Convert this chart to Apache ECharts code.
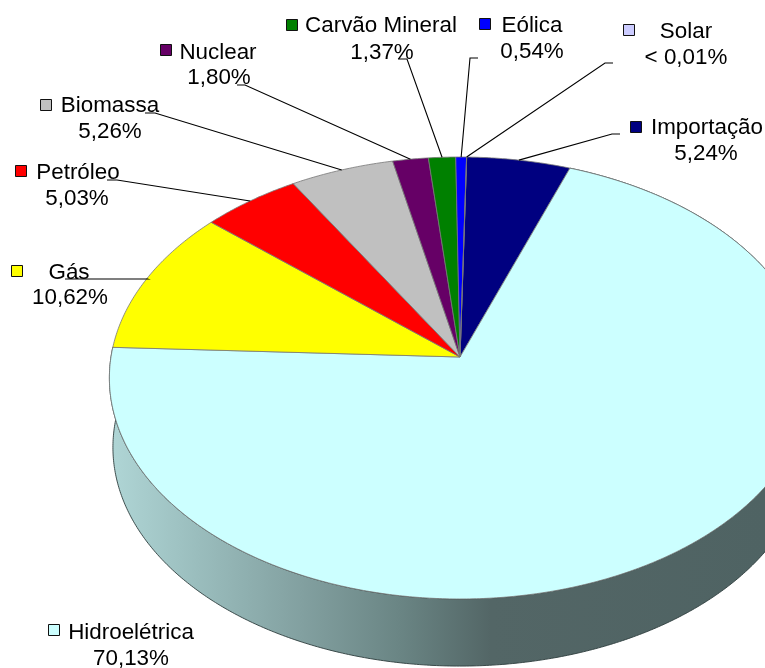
<!DOCTYPE html>
<html>
<head>
<meta charset="utf-8">
<style>html,body{margin:0;padding:0;background:#fff;overflow:hidden}#c{width:765px;height:668px}</style>
<script src="https://cdn.jsdelivr.net/npm/echarts@6/dist/echarts.min.js"></script>
</head>
<body>
<div id="c"></div>
<script>
// Data, clockwise from the top
const categories = ['Importação','Hidroelétrica','Gás','Petróleo','Biomassa','Nuclear','Carvão Mineral','Eólica','Solar'];
const shares     = [5.24, 70.13, 10.62, 5.03, 5.26, 1.80, 1.37, 0.54, 0.005];
const shareLabels = ['5,24%','70,13%','10,62%','5,03%','5,26%','1,80%','1,37%','0,54%','< 0,01%'];
const colors = ['#000080','#CCFFFF','#FFFF00','#FF0000','#C0C0C0','#660066','#008000','#0000FF','#CCCCFF'];

// Label layout: [marker left, marker centre y, name centre x, name centre y, value centre x, value centre y]
const labelLayout = [
  [630,127,707,128,706,154],
  [48,630,131,633,131,659],
  [11,271,69,273,70,298],
  [15,171,78,173,77,199],
  [40,105,110,106,110,132],
  [160,50,218,53,219,78],
  [286,25,381,26,382,53],
  [479,24,532,26,532,52],
  [623,30,686,32,686,58]
];
// Leader elbows: [label end x, label end y, elbow x, elbow y]
const leaderLayout = [
  [620,134,612,134],
  null,
  [65,279,147,279],
  [107,180,117,180],
  [145,113,155,113],
  [237,85,245,85],
  [398,59,407,59],
  [478,58,470,58],
  [613,63,605,63]
];

// Tilted-disc projection (the centre of the pie is not the centre of the ellipse)
const CX = 460, CY = 357, A = 349, B = 219, P = 0.095;
const START = 1.2, DEPTH = 69.5, BASE_SCALE = 0.99;
const FONT = '22.4px "Liberation Sans", Arial, sans-serif';

function project(deg, scale, dy) {
  const t = deg * Math.PI / 180, u = Math.sin(t), v = Math.cos(t), w = 1 + P * v;
  return [CX + scale * A * u / w, CY + (dy || 0) - scale * B * v / w];
}
function arc(a0, a1, scale, dy) {
  const n = Math.max(2, Math.ceil(Math.abs(a1 - a0) / 0.5)), pts = [];
  for (let i = 0; i <= n; i++) pts.push(project(a0 + (a1 - a0) * i / n, scale, dy));
  return pts;
}
const total = shares.reduce((a, b) => a + b, 0);
const ranges = [];
shares.reduce((acc, s) => { const e = acc + s / total * 360; ranges.push([acc, e]); return e; }, START);

const wallFill = new echarts.graphic.LinearGradient(113, 0, 765, 0, [
  {offset: 0,    color: '#AFD5D5'},
  {offset: 0.13, color: '#9ABDBD'},
  {offset: 0.29, color: '#82A0A0'},
  {offset: 0.44, color: '#6A8584'},
  {offset: 0.58, color: '#536666'},
  {offset: 1,    color: '#4F6363'}
], true);

const idx = categories.map((_, i) => i);
const hydro = categories.indexOf('Hidroelétrica');

const option = {
  animation: false,
  backgroundColor: '#fff',
  series: [
    { // side wall of the visible slice
      type: 'custom', coordinateSystem: 'none', z: 1, silent: true, data: [hydro],
      renderItem(p, api) {
        const [a0, a1] = ranges[api.value(0)];
        const points = arc(a0, a1, 1, 0).concat(arc(a1, a0, BASE_SCALE, DEPTH));
        return {type: 'polygon', shape: {points}, style: {fill: wallFill, stroke: '#2E3D3D', lineWidth: 0.9}};
      }
    },
    { // top face slices
      type: 'custom', coordinateSystem: 'none', z: 2, silent: true, data: idx,
      renderItem(p, api) {
        const i = api.value(0), [a0, a1] = ranges[i];
        const points = [[CX, CY]].concat(arc(a0, a1, 1, 0));
        return {type: 'polygon', shape: {points}, style: {fill: colors[i], stroke: '#777', lineWidth: 0.8}};
      }
    },
    { // leader lines, ending on the rim at each slice's middle
      type: 'custom', coordinateSystem: 'none', z: 3, silent: true,
      data: idx.filter(i => leaderLayout[i]),
      renderItem(p, api) {
        const i = api.value(0), L = leaderLayout[i], [a0, a1] = ranges[i];
        const end = project((a0 + a1) / 2, 1, 0);
        return {type: 'polyline', shape: {points: [[L[0], L[1]], [L[2], L[3]], end]},
                style: {fill: null, stroke: '#000', lineWidth: 1.1}};
      }
    },
    { // legend keys and labels
      type: 'custom', coordinateSystem: 'none', z: 4, silent: true, data: idx,
      renderItem(p, api) {
        const i = api.value(0), L = labelLayout[i];
        const txt = (s, x, y) => ({type: 'text', style: {text: s, x, y, fill: '#000', font: FONT, align: 'center', verticalAlign: 'middle'}});
        return {type: 'group', children: [
          {type: 'rect', shape: {x: L[0] + 0.5, y: L[1] - 5.5, width: 11, height: 11},
           style: {fill: colors[i], stroke: '#111', lineWidth: 1}},
          txt(categories[i], L[2], L[3]),
          txt(shareLabels[i], L[4], L[5])
        ]};
      }
    }
  ]
};
const chart = echarts.init(document.getElementById('c'), null, {width: 765, height: 668});
chart.setOption(option);
</script>
</body>
</html>
